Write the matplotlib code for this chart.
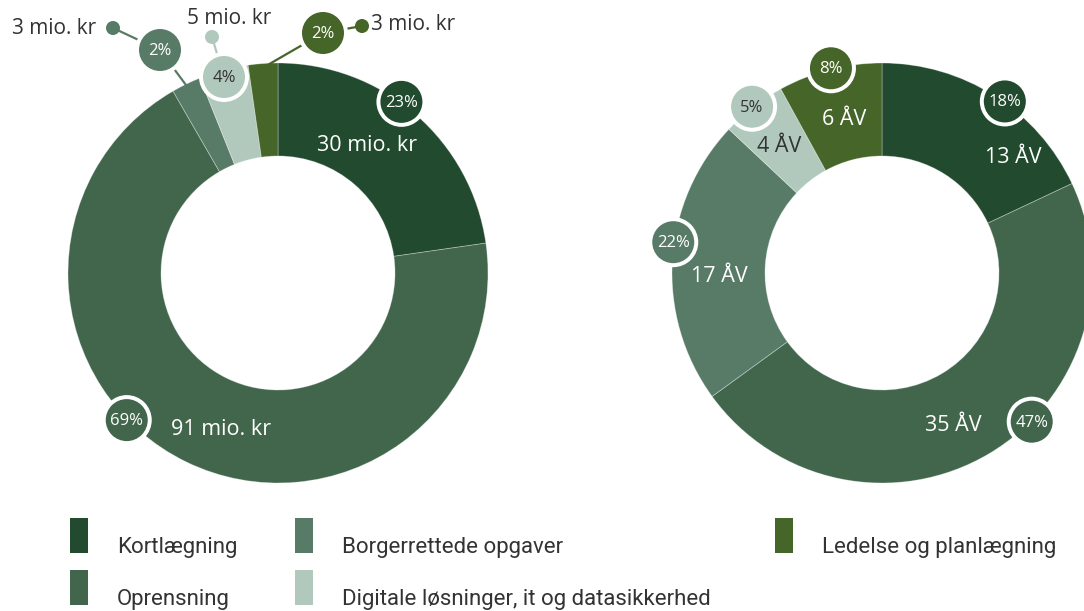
import matplotlib
matplotlib.use('Agg')
import matplotlib.pyplot as plt
from matplotlib.patches import Circle, Rectangle
import numpy as np

# data
categories = ['Kortlægning', 'Oprensning', 'Borgerrettede opgaver',
              'Digitale løsninger, it og datasikkerhed', 'Ledelse og planlægning']
budget_mio = [30, 91, 3, 5, 3]
budget_pct = [23, 69, 2, 4, 2]
staff_av = [13, 35, 17, 4, 6]
staff_pct = [18, 47, 22, 5, 8]

colors = ['#214a2e', '#41664b', '#587b68', '#b1c9bc', '#466528']
txt_colors = ['white', 'white', 'white', '#333333', 'white']
DARK = '#333333'
LABEL_FONT = ['Open Sans', 'DejaVu Sans']
LEGEND_FONT = ['Liberation Sans Narrow', 'Roboto', 'DejaVu Sans']

R, W = 210, 93
left_c = (278, 273)
right_c = (882, 273)

fig = plt.figure(figsize=(10.84, 6.11), dpi=100)
ax = fig.add_axes([0, 0, 1, 1])


def pos(c, ang, r):
    a = np.radians(ang)
    return c[0] + r * np.sin(a), c[1] - r * np.cos(a)


def pct_badge(xy, text, fc, tc):
    ax.add_patch(Circle(xy, 25, fc='white', ec='none', zorder=4))
    ax.add_patch(Circle(xy, 21, fc=fc, ec='none', zorder=5))
    ax.text(xy[0], xy[1] + 1, text, ha='center', va='center', color=tc,
            fontsize=12, family=LABEL_FONT, zorder=6)


def donut(c, values):
    # y axis is inverted, so startangle -90 points up and counterclock runs clockwise
    ax.pie(values, colors=colors, startangle=-90, counterclock=True, radius=R, center=c,
           wedgeprops=dict(width=W, edgecolor=(1, 1, 1, 0.35), linewidth=0.6), frame=True)


donut(left_c, budget_mio)
donut(right_c, staff_pct)

# left donut labels
pct_badge(pos(left_c, 35.8, 211), f'{budget_pct[0]}%', colors[0], txt_colors[0])
pct_badge(pos(left_c, 225.8, 211), f'{budget_pct[1]}%', colors[1], txt_colors[1])
x, y = pos(left_c, 35, 156)
ax.text(x, y, f'{budget_mio[0]} mio. kr', ha='center', va='center', color='white',
        fontsize=15.5, family=LABEL_FONT, zorder=6)
x, y = pos(left_c, 200, 167)
ax.text(x, y, f'{budget_mio[1]} mio. kr', ha='center', va='center', color='white',
        fontsize=15.5, family=LABEL_FONT, zorder=6)

# small slices with callouts
cum = np.cumsum([0] + budget_mio) / sum(budget_mio) * 360
mids = (cum[:-1] + cum[1:]) / 2
callouts = {
    2: dict(badge=(160, 50), dot=(113, 28), text=(96, 28), ha='right'),
    3: dict(badge=(224, 77), dot=(212, 37), text=(229, 18), ha='center'),
    4: dict(badge=(323, 33), dot=(362, 26), text=(371, 24), ha='left'),
}
for i, co in callouts.items():
    anchor = pos(left_c, mids[i], R - 4)
    pts = [anchor, co['badge'], co['dot']]
    ax.plot([p[0] for p in pts], [p[1] for p in pts], color=colors[i], lw=1.6,
            zorder=3, solid_capstyle='round')
    ax.add_patch(Circle(co['dot'], 7, fc=colors[i], ec='none', zorder=3))
    pct_badge(co['badge'], f'{budget_pct[i]}%', colors[i], txt_colors[i])
    ax.text(co['text'][0], co['text'][1], f'{budget_mio[i]} mio. kr', ha=co['ha'],
            va='center', color=DARK, fontsize=15, family=LABEL_FONT, zorder=6)

# right donut labels
badge_ang = [35.6, 134.8, 278.4, 322, 346]
value_pos = [(48.5, 175), (155, 168), (268.6, 163), (321, 163), (346, 158)]
for i in range(5):
    pct_badge(pos(right_c, badge_ang[i], 211), f'{staff_pct[i]}%', colors[i], txt_colors[i])
    x, y = pos(right_c, *value_pos[i])
    ax.text(x, y, f'{staff_av[i]} ÅV', ha='center', va='center', color=txt_colors[i],
            fontsize=15.5, family=LABEL_FONT, zorder=6)

# legend
leg_pos = [(70, 518), (70, 570), (295, 518), (295, 570), (775, 518)]
for (lx, ly), cat, col in zip(leg_pos, categories, colors):
    ax.add_patch(Rectangle((lx, ly), 18, 35, fc=col, ec='none'))
    ax.text(lx + 47, ly + 35, cat, ha='left', va='baseline', color=DARK,
            fontsize=16, family=LEGEND_FONT)

ax.set_xlim(0, 1084)
ax.set_ylim(611, 0)
ax.set_aspect('auto')
ax.axis('off')

fig.savefig('out.png', dpi=100)
